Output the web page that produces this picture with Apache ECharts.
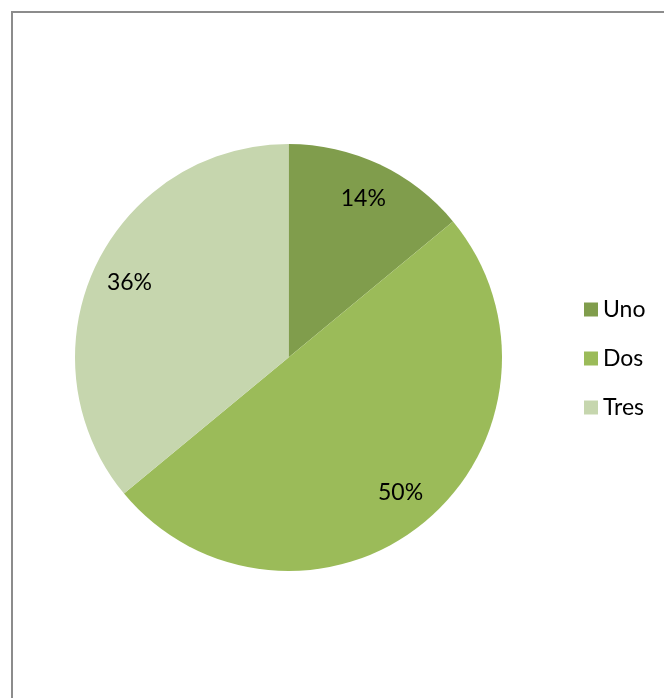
<!DOCTYPE html>
<html>
<head>
<meta charset="utf-8">
<style>
  html, body { margin: 0; padding: 0; background: #ffffff; }
  #chart { width: 664px; height: 698px; }
</style>
<script src="https://cdn.jsdelivr.net/npm/echarts@6/dist/echarts.min.js"></script>
</head>
<body>
<div id="chart"></div>
<script>
// Share of answers per category
const categories = ['Uno', 'Dos', 'Tres'];
const percentages = [14, 50, 36];
const sliceColors = ['#809D4C', '#9BBB59', '#C6D6AE'];

const pieData = categories.map((name, i) => ({ name: name, value: percentages[i] }));

const chart = echarts.init(document.getElementById('chart'), null, { renderer: 'canvas' });

const center = [288.5, 357.5];
const outerR = 213.5;
const labelFont = { fontFamily: 'Lato, "Open Sans", sans-serif', fontSize: 23, color: '#000000' };

chart.setOption({
  animation: false,
  color: sliceColors,
  graphic: [{
    type: 'rect',
    silent: true,
    shape: { x: 12, y: 12, width: 700, height: 720 },
    style: { fill: 'none', stroke: '#8c8c8c', lineWidth: 2 }
  }],
  legend: {
    orient: 'vertical',
    left: 579,
    top: 293,
    icon: 'rect',
    itemWidth: 14,
    itemHeight: 14,
    itemGap: 26,
    data: categories,
    textStyle: Object.assign({ padding: [0, 0, 0, 0], lineHeight: 23 }, labelFont)
  },
  series: [
    {
      // filled slices
      type: 'pie',
      center: center,
      radius: [0, outerR],
      startAngle: 90,
      clockwise: true,
      silent: true,
      itemStyle: { borderWidth: 0 },
      label: { show: false },
      labelLine: { show: false },
      data: pieData
    },
    {
      // transparent ring that carries the percentage labels near the rim
      type: 'pie',
      center: center,
      radius: [132, outerR],
      startAngle: 90,
      clockwise: true,
      silent: true,
      legendHoverLink: false,
      itemStyle: { color: 'rgba(0,0,0,0)', borderWidth: 0 },
      label: Object.assign({
        show: true,
        position: 'inside',
        formatter: p => p.value + '%'
      }, labelFont),
      labelLine: { show: false },
      data: pieData
    }
  ]
});
</script>
</body>
</html>
